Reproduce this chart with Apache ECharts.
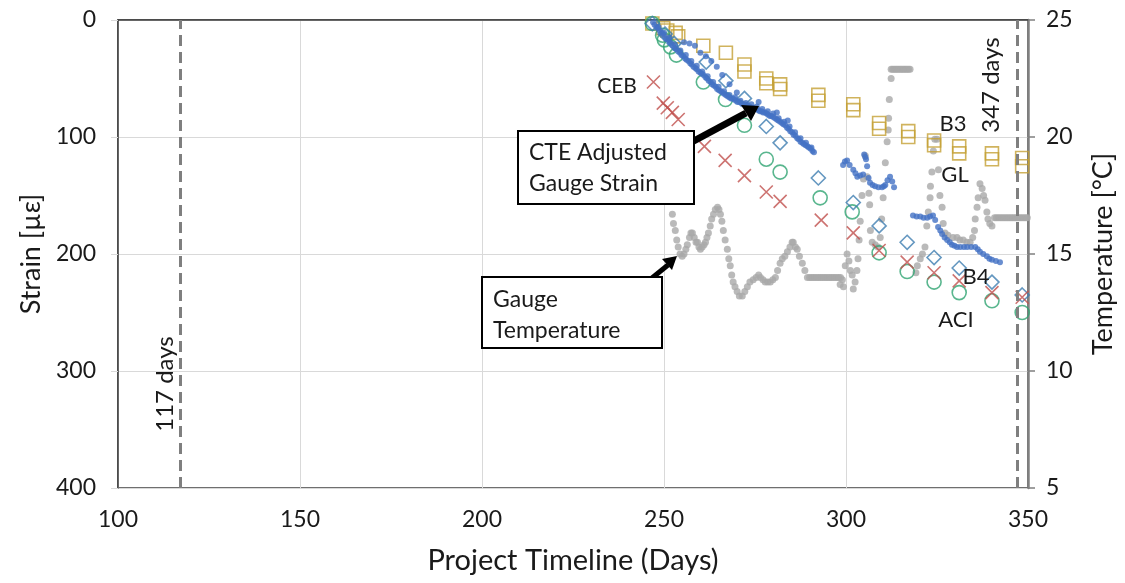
<!DOCTYPE html>
<html>
<head>
<meta charset="utf-8">
<script src="https://cdn.jsdelivr.net/npm/echarts@6/dist/echarts.min.js"></script>
<style>
html,body{margin:0;padding:0;background:#fff;}
#chart{width:1125px;height:583px;}
</style>
</head>
<body>
<div id="chart"></div>
<script>
// ---- axis ticks ----
const xTicks = [100, 150, 200, 250, 300, 350];
const strainTicks = [0, 100, 200, 300, 400];
const tempTicks = [5, 10, 15, 20, 25];

// ---- reference lines (days) ----
const refDays = [117, 347];
const refLabels = ['117 days', '347 days'];

// ---- B3 model (strain, gold squares) [day, µε] ----
const b3Points = [[246.8,3],[249.8,7],[250.9,9],[253.2,11],[253.9,14],[260.8,22],[267.0,28],[272.1,38],[272.1,44],[278.1,50],[278.1,54],[281.9,55],[281.9,59],[292.4,64],[292.4,69],[302.0,72],[302.0,77],[309.1,88],[309.1,93],[317.1,95],[317.1,100],[324.2,103],[324.2,107],[331.1,108],[331.1,114],[340.1,114],[340.1,119],[348.4,118],[348.4,125]];

// ---- ACI model (green circles) ----
const aciPoints = [[246.8,3],[249.6,13],[250.1,17],[251.8,23],[253.4,30],[260.8,53],[266.9,68],[272.1,90],[278.1,119],[281.9,130],[292.9,152],[301.7,164],[309.1,199],[316.8,215],[324.2,224],[331.1,233],[340.1,240],[348.4,250]];

// ---- B4 model (blue diamonds) ----
const b4Points = [[246.8,3],[250.3,12],[252.8,20],[261.6,36],[267.0,52],[272.1,67],[278.1,91],[281.9,105],[292.4,135],[302.0,156],[309.1,176],[316.8,190],[324.2,203],[331.1,212],[340.1,224],[348.4,235]];

// ---- CEB model (red crosses) ----
const cebPoints = [[247.1,53],[249.8,71],[250.9,75],[252.3,79],[253.9,85],[261.1,108],[266.8,120],[272.1,133],[278.1,147],[281.9,155],[293.2,171],[302.0,182],[309.1,197],[316.8,207],[324.2,216],[331.1,223],[340.1,233],[348.4,237]];

// ---- GL: CTE adjusted gauge strain (blue dots) ----
const glPoints = [
[247.0,2],[247.4,4],[247.9,6],[248.3,7],[248.8,9],[249.3,11],[249.7,12],[250.2,14],[250.6,16],[251.1,17],[251.6,19],[252.0,20],[252.5,22],[253.0,24],[253.4,25],[253.9,27],[254.4,28],[254.8,30],[255.3,31],[255.8,33],[256.2,34],[256.7,35],[257.2,37],[257.6,38],[258.1,40],[258.6,41],[259.0,42],[259.5,44],[260.0,45],[260.4,46],[260.9,47],[261.4,49],[261.8,50],[262.3,52],[262.8,53],[263.2,55],[263.7,56],[264.2,57],[264.6,59],[265.1,60],[265.6,61],[266.0,62],[266.5,63],[267.0,64],[267.4,65],[267.9,66],[268.4,67],[268.8,67],[269.3,68],[269.8,69],[270.2,70],[270.7,70],[271.2,71],[271.6,72],[272.1,72],[272.6,73],[273.0,73],[273.5,74],[274.0,75],[274.4,75],[274.9,76],[275.4,76],[275.8,77],[276.3,78],[276.8,78],[277.2,79],[277.7,79],[278.2,80],[278.6,81],[279.1,82],[279.6,82],[280.0,83],[280.5,84],[281.0,85],[281.4,86],[281.9,87],[282.4,88],[282.8,89],[283.3,90],[283.8,92],[284.2,93],[284.7,95],[285.2,96],[285.6,98],[286.1,99],[286.6,101],[287.0,102],[287.5,104],[288.0,105],[288.4,106],[288.9,107],[289.4,108],[289.8,109],[290.3,110],[290.8,112],[291.2,113],
[248.5,6],[250.0,11],[251.5,15],[253.0,21],[254.5,26],[256.0,30],[257.5,35],[259.0,39],[260.5,44],[262.0,48],[263.5,53],[265.0,57],[266.5,61],[268.0,64],[269.5,66],[271.0,69],[272.5,71],[274.0,72],[275.5,74],[277.0,76],[278.5,78],[280.0,80],[281.5,84],[283.0,87],[284.5,91],[286.0,96],[287.5,101],[289.0,105],[290.5,109],
[255.5,19],[257.0,20],[258.5,22],[260.0,28],[261.5,31],[263.0,35],[264.5,40],[266.0,47],[268.0,55],[270.0,62],[276.0,70],[281.0,79],[284.0,86],
[299.2,124],[299.7,121],[300.3,120],[301.0,124],[302.0,128],[302.6,131],[303.1,134],[303.9,133],[304.7,132],[305.0,115],[305.3,117],[305.5,119],[305.8,125],[306.2,135],[306.6,139],[307.3,141],[308.0,142],[308.9,143],[309.9,143],[310.4,142],[310.8,141],[311.4,137],[312.1,134],[312.7,138],[313.2,143],
[318.4,167],[319.4,168],[320.4,168],[321.3,169],[322.3,169],[323.1,168],[323.9,167],[324.5,171],[325.3,177],[325.9,180],[326.4,183],[327.1,186],[327.8,188],[328.5,190],[329.1,192],[329.8,193],[330.5,194],[331.4,194],[332.4,194],[333.3,194],[334.4,194],[335.5,194],[336.2,196],[336.8,198],[337.7,200],[338.7,202],[339.4,204],[340.1,205],[341.2,206],[342.3,207]
];

// ---- Gauge temperature (grey dots) [day, °C] ----
const tempPoints = [
[252.3,16.7],[252.6,16.3],[253.1,16.0],[253.5,15.6],[253.9,15.3],[254.4,15.0],[255.0,14.9],[255.5,15.0],[256.0,15.2],[256.4,15.4],[257.0,15.7],[257.4,15.9],[257.8,15.9],[258.3,15.7],[258.8,15.5],[259.2,15.5],[259.6,15.3],[260.0,15.2],[260.5,15.3],[261.0,15.4],[261.4,15.5],[261.8,15.7],[262.2,15.9],[262.7,16.2],[263.1,16.5],[263.6,16.7],[264.1,16.9],[264.7,17.0],[265.1,16.9],[265.5,16.7],[265.9,16.4],[266.3,16.0],[266.8,15.6],[267.4,15.2],[267.8,14.8],[268.2,14.5],[268.6,14.1],[269.0,13.8],[269.5,13.6],[270.1,13.4],[270.7,13.2],[271.5,13.2],[272.2,13.4],[272.9,13.6],[273.6,13.8],[274.5,13.9],[275.3,14.0],[276.0,14.1],[276.5,14.0],[277.2,13.9],[277.8,13.8],[278.5,13.8],[279.2,13.8],[279.9,13.9],[280.6,14.0],[281.2,14.3],[281.9,14.6],[282.5,14.8],[283.2,14.9],[283.9,15.1],[284.6,15.3],[285.2,15.5],[285.5,15.5],[286.1,15.3],[286.6,15.2],[287.2,14.9],[288.0,14.6],[288.7,14.3],[289.4,14.0],[290.0,14.0],
[290.5,14.0],[291.0,14.0],[291.5,14.0],[292.0,14.0],[292.5,14.0],[293.0,14.0],[293.5,14.0],[294.0,14.0],[294.5,14.0],[295.0,14.0],[295.5,14.0],[296.0,14.0],[296.5,14.0],[297.0,14.0],[297.5,14.0],[298.0,14.0],[298.5,14.0],
[298.4,13.7],[299.0,13.9],[299.3,13.6],[299.8,14.5],[300.3,15.0],[300.8,14.7],[301.2,14.3],[301.7,14.1],[302.0,13.5],[302.5,13.8],[303.0,14.3],[303.3,14.8],[303.6,15.6],[303.9,16.4],[304.4,17.5],[304.8,18.2],[305.3,19.2],[305.8,18.3],[306.3,17.6],[306.5,17.1],[306.7,16.0],[307.2,15.5],[308.0,15.4],[308.8,15.3],[309.4,15.7],[309.8,16.5],[310.2,17.4],[310.8,18.9],[311.3,19.8],[311.6,20.3],[311.7,20.8],[311.9,21.6],[312.4,22.5],
[312.4,22.9],[312.8,22.9],[313.2,22.9],[313.6,22.9],[314.0,22.9],[314.4,22.9],[314.8,22.9],[315.2,22.9],[315.6,22.9],[316.0,22.9],[316.4,22.9],[316.8,22.9],[317.2,22.9],[317.6,22.9],
[319.2,14.2],[319.6,14.5],[320.4,14.8],[321.0,15.0],[321.7,15.3],[322.2,16.2],[322.6,16.8],[323.1,17.4],[323.2,17.9],[323.6,18.5],[324.0,19.4],[324.4,19.9],[325.0,19.9],[325.4,18.6],[325.8,17.5],[326.4,17.0],[326.7,16.3],[327.2,15.9],[328.0,15.8],[329.4,15.7],[330.5,15.7],[331.3,15.6],[332.2,15.6],[333.2,15.5],[334.1,15.5],[334.8,15.7],[335.3,16.0],[335.5,16.5],[336.0,17.0],[336.3,17.4],[336.8,18.0],[337.4,17.8],[337.8,17.5],[338.2,17.3],[338.7,16.8],[339.0,16.5],[339.5,16.3],[340.1,16.2],
[340.8,16.55],[341.3,16.55],[341.8,16.55],[342.3,16.55],[342.8,16.55],[343.3,16.55],[343.8,16.55],[344.3,16.55],[344.8,16.55],[345.3,16.55],[345.8,16.55],[346.3,16.55],[346.8,16.55],[347.3,16.55],[347.8,16.55],[348.3,16.55],[348.8,16.55],[349.3,16.55],[349.8,16.55]
];

// ---- styling ----
const FONT = 'Lato, "Open Sans", "Liberation Sans", sans-serif';
const TXT = '#1a1a1a';
const C_B3 = '#C4A035', C_ACI = '#2FA472', C_B4 = '#3D7DB0', C_CEB = '#C0504D', C_GL = '#4472C4', C_T = '#A9A9A9';
const crossPath = 'path://M0,0L10,10M10,0L0,10';

const chart = echarts.init(document.getElementById('chart'), null, {renderer: 'canvas'});

function hollow(c) { return {color: 'rgba(0,0,0,0)', borderColor: c, borderWidth: 1.6}; }

const option = {
  backgroundColor: '#fff',
  animation: false,
  grid: {left: 118, right: 97, top: 20, bottom: 95, show: true, borderColor: '#404040', borderWidth: 1.5, containLabel: false},
  xAxis: {
    type: 'value', min: xTicks[0], max: xTicks[xTicks.length - 1], interval: 50,
    name: 'Project Timeline (Days)', nameLocation: 'middle', nameGap: 58,
    nameTextStyle: {fontFamily: FONT, fontSize: 29, color: TXT},
    axisLine: {show: true, lineStyle: {color: '#404040', width: 1.5}},
    axisTick: {show: false},
    axisLabel: {fontFamily: FONT, fontSize: 23, color: TXT, margin: 20},
    splitLine: {show: true, lineStyle: {color: '#D9D9D9', width: 1}}
  },
  yAxis: [{
    type: 'value', min: strainTicks[0], max: strainTicks[strainTicks.length - 1], interval: 100, inverse: true,
    position: 'left',
    name: 'Strain [µε]', nameLocation: 'middle', nameGap: 68,
    nameTextStyle: {fontFamily: FONT, fontSize: 27, color: TXT},
    axisLine: {show: true, lineStyle: {color: '#404040', width: 1.5}},
    axisTick: {show: true, inside: false, length: 7, lineStyle: {color: '#D9D9D9'}},
    axisLabel: {fontFamily: FONT, fontSize: 23, color: TXT, margin: 22},
    splitLine: {show: true, lineStyle: {color: '#D9D9D9', width: 1}}
  }, {
    type: 'value', min: tempTicks[0], max: tempTicks[tempTicks.length - 1], interval: 5,
    position: 'right',
    name: 'Temperature [°C]', nameLocation: 'middle', nameGap: 62,
    nameTextStyle: {fontFamily: FONT, fontSize: 27, color: TXT},
    axisLine: {show: true, lineStyle: {color: '#808080', width: 2.5}},
    axisTick: {show: true, inside: false, length: 7, lineStyle: {color: '#808080', width: 1.5}},
    axisLabel: {fontFamily: FONT, fontSize: 23, color: TXT, margin: 18},
    splitLine: {show: false}
  }],
  series: [
    {
      name: 'Gauge Temperature', type: 'scatter', yAxisIndex: 1, data: tempPoints,
      symbol: 'circle', symbolSize: 7, itemStyle: {color: C_T}, z: 2,
      markLine: {
        silent: true, symbol: 'none', animation: false,
        label: {show: false},
        lineStyle: {color: '#7F7F7F', width: 3, type: [11, 6]},
        data: refDays.map(d => ({xAxis: d}))
      }
    },
    {name: 'B3', type: 'scatter', data: b3Points, symbol: 'rect', symbolSize: 13, itemStyle: hollow(C_B3), z: 3},
    {name: 'ACI', type: 'scatter', data: aciPoints, symbol: 'circle', symbolSize: 14, itemStyle: hollow(C_ACI), z: 3},
    {name: 'B4', type: 'scatter', data: b4Points, symbol: 'diamond', symbolSize: 14, itemStyle: hollow(C_B4), z: 3},
    {name: 'CEB', type: 'scatter', data: cebPoints, symbol: crossPath, symbolSize: 13, itemStyle: {color: 'rgba(0,0,0,0)', borderColor: C_CEB, borderWidth: 1.6}, z: 3},
    {name: 'GL', type: 'scatter', data: glPoints, symbol: 'circle', symbolSize: 6, itemStyle: {color: C_GL}, z: 4}
  ]
};
chart.setOption(option);

// ---- annotations (text labels, boxes, arrows) ----
function px(d, s) { return chart.convertToPixel({xAxisIndex: 0, yAxisIndex: 0}, [d, s]); }
const lblFont = {fontFamily: FONT, fontSize: 22, fill: TXT, align: 'center', verticalAlign: 'middle'};
const p117 = px(refDays[0], 0), p347 = px(refDays[1], 0);
const g = [];
function txt(x, y, text, size, rot) {
  const el = {type: 'text', x: x, y: y, z: 100, style: Object.assign({}, lblFont, {text: text, fontSize: size || 22})};
  if (rot) el.rotation = rot;
  g.push(el);
}
txt(p117[0] - 15, 384, refLabels[0], 24, Math.PI / 2);
txt(p347[0] - 26, 85, refLabels[1], 24, Math.PI / 2);
txt(617, 86, 'CEB', 21);
txt(953, 124, 'B3');
txt(955, 175, 'GL');
txt(976, 277, 'B4');
txt(956, 320, 'ACI');

// CTE box + arrow
g.push({type: 'line', z: 90, shape: {x1: 690, y1: 143, x2: 746, y2: 113}, style: {stroke: '#000', lineWidth: 7}});
g.push({type: 'polygon', z: 91, shape: {points: [[759, 106], [741, 105], [751, 121]]}, style: {fill: '#000'}});
g.push({type: 'rect', z: 95, shape: {x: 518, y: 131, width: 176, height: 73}, style: {fill: '#fff', stroke: '#000', lineWidth: 2}});
g.push({type: 'text', z: 100, x: 529, y: 153, style: {text: 'CTE Adjusted', fontFamily: FONT, fontSize: 23, fill: TXT, align: 'left', verticalAlign: 'middle'}});
g.push({type: 'text', z: 100, x: 529, y: 184, style: {text: 'Gauge Strain', fontFamily: FONT, fontSize: 23, fill: TXT, align: 'left', verticalAlign: 'middle'}});

// Gauge temperature box + arrow
g.push({type: 'line', z: 90, shape: {x1: 652, y1: 278, x2: 668, y2: 265}, style: {stroke: '#000', lineWidth: 5}});
g.push({type: 'polygon', z: 91, shape: {points: [[677, 256], [662, 259], [672, 270]]}, style: {fill: '#000'}});
g.push({type: 'rect', z: 95, shape: {x: 482, y: 277, width: 180, height: 71}, style: {fill: '#fff', stroke: '#000', lineWidth: 2}});
g.push({type: 'text', z: 100, x: 493, y: 300, style: {text: 'Gauge', fontFamily: FONT, fontSize: 23, fill: TXT, align: 'left', verticalAlign: 'middle'}});
g.push({type: 'text', z: 100, x: 493, y: 331, style: {text: 'Temperature', fontFamily: FONT, fontSize: 23, fill: TXT, align: 'left', verticalAlign: 'middle'}});

chart.setOption({graphic: g});
</script>
</body>
</html>
